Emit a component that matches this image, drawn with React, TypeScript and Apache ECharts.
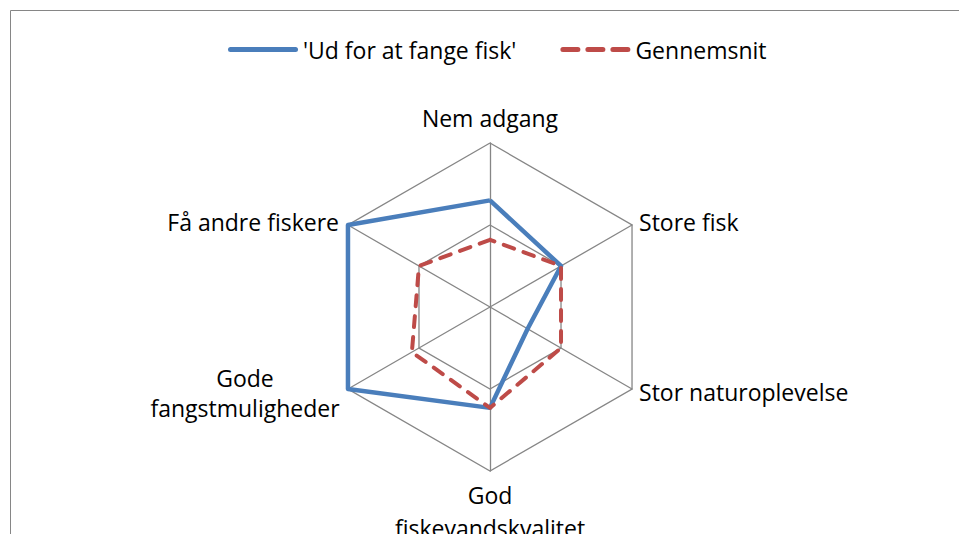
import React, { useEffect, useRef } from "react";
import * as echarts from "echarts";

// Axis categories in clockwise order starting from the top (as in the reference)
const categories = [
  "Nem adgang",
  "Store fisk",
  "Stor naturoplevelse",
  "God fiskevandskvalitet",
  "Gode fangstmuligheder",
  "Få andre fiskere",
];
const seriesNames = ["'Ud for at fange fisk'", "Gennemsnit"];
const udValues = [1.3, 1.0, 0.53, 1.23, 2.0, 2.0];
const avgValues = [0.82, 1.0, 1.0, 1.23, 1.1, 1.0];
const axisMax = 2;

const FONT = "'Open Sans', sans-serif";
const FS = 23;
const CX = 490;
const CY = 307;
const R = 164;

const BLUE = "#4A7EBB";
const RED = "#BE4B48";

export default function App() {
  const ref = useRef<HTMLDivElement>(null);
  useEffect(() => {
    if (!ref.current) return;
    const chart = echarts.init(ref.current, undefined, { renderer: "svg" });
    // ECharts places radar indicators counter-clockwise; reorder so they appear clockwise
    const order = [0, 5, 4, 3, 2, 1];
    const indicator = order.map((i) => ({ name: categories[i], max: axisMax, min: 0 }));
    const ud = order.map((i) => udValues[i]);
    const avg = order.map((i) => avgValues[i]);

    const txt = (text: string, x: number, y: number, align: string) => ({
      type: "text",
      x,
      y,
      silent: true,
      style: {
        text,
        fill: "#000",
        font: `${FS}px ${FONT}`,
        textAlign: align,
        textVerticalAlign: "middle",
      },
    });
    const ang = (deg: number) => (deg * Math.PI) / 180;
    const px = (deg: number, r: number) => CX + r * Math.cos(ang(deg));
    const py = (deg: number, r: number) => CY - r * Math.sin(ang(deg));

    const solidIcon =
      "path://M2.5,0H67.5A2.5,2.5,0,0,1,67.5,5H2.5A2.5,2.5,0,0,1,2.5,0Z";
    const dashIcon =
      "path://M2.5,0H17.5A2.5,2.5,0,0,1,17.5,5H2.5A2.5,2.5,0,0,1,2.5,0Z" +
      "M27.5,0H42.5A2.5,2.5,0,0,1,42.5,5H27.5A2.5,2.5,0,0,1,27.5,0Z" +
      "M52.5,0H67.5A2.5,2.5,0,0,1,67.5,5H52.5A2.5,2.5,0,0,1,52.5,0Z";

    chart.setOption({
      animation: false,
      backgroundColor: "#fff",
      legend: {
        top: 33,
        left: 223,
        itemWidth: 70,
        itemHeight: 5,
        itemGap: 44,
        textStyle: { fontSize: FS, fontFamily: FONT, color: "#000" },
        data: [
          { name: seriesNames[0], icon: solidIcon, itemStyle: { color: BLUE } },
          { name: seriesNames[1], icon: dashIcon, itemStyle: { color: RED } },
        ],
      },
      radar: {
        center: [CX, CY],
        radius: R,
        startAngle: 90,
        shape: "polygon",
        splitNumber: 2,
        indicator,
        axisName: { show: false },
        axisLine: { lineStyle: { color: "#868686", width: 1.3 } },
        splitLine: { lineStyle: { color: "#868686", width: 1.3 } },
        splitArea: { show: false },
      },
      series: [
        {
          type: "radar",
          symbol: "none",
          data: [
            {
              name: seriesNames[0],
              value: ud,
              lineStyle: { color: BLUE, width: 4.5 },
              itemStyle: { color: BLUE },
            },
            {
              name: seriesNames[1],
              value: avg,
              lineStyle: { color: RED, width: 4, type: [11, 10], cap: "round" },
              itemStyle: { color: RED },
            },
          ],
        },
      ],
      graphic: [
        {
          type: "rect",
          silent: true,
          shape: { x: 10.5, y: 10.5, width: 1000, height: 600 },
          style: { fill: "none", stroke: "#868686", lineWidth: 1 },
        },
        txt(categories[0], CX, py(90, R) - 25, "center"),
        txt(categories[1], px(30, R) + 7, py(30, R) - 3, "left"),
        txt(categories[2], px(-30, R) + 7, py(-30, R) + 3, "left"),
        txt("God", CX, py(-90, R) + 24, "center"),
        txt("fiskevandskvalitet", CX, py(-90, R) + 57, "center"),
        txt("Gode", 245, py(210, R) - 11, "center"),
        txt("fangstmuligheder", 245, py(210, R) + 19, "center"),
        txt(categories[5], px(150, R) - 9, py(150, R) - 3, "right"),
      ],
    });
    return () => chart.dispose();
  }, []);
  return (
    <div
      ref={ref}
      style={{ position: "fixed", left: 0, top: 0, width: 959, height: 534 }}
    />
  );
}
